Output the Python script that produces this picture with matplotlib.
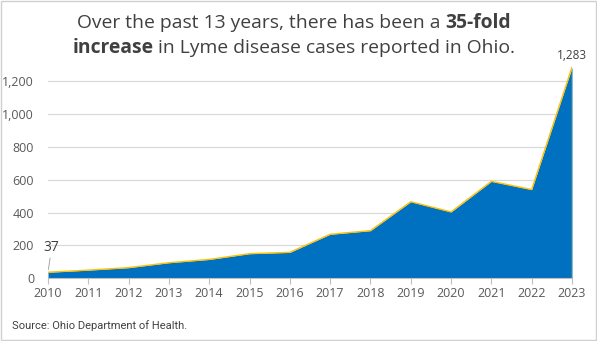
import matplotlib.pyplot as plt
from matplotlib.patches import Rectangle

years = [2010, 2011, 2012, 2013, 2014, 2015, 2016, 2017, 2018, 2019, 2020, 2021, 2022, 2023]
cases = [37, 50, 65, 95, 115, 150, 158, 268, 290, 466, 404, 590, 540, 1283]
yticks = [0, 200, 400, 600, 800, 1000, 1200]

blue = '#0070C0'
gold = '#FFC000'
grey_txt = '#595959'

plt.rcParams['font.family'] = ['Open Sans', 'DejaVu Sans']

fig = plt.figure(figsize=(5.97, 3.41), dpi=100)
ax = fig.add_axes([0.0804, 0.1838, 0.8777, 0.622])

ax.fill_between(years, cases, 0, color=blue, lw=0, zorder=2)
ax.plot(years, cases, color=gold, lw=1.0, zorder=3)
ax.plot([years[-1], years[-1]], [0, cases[-1]], color=gold, lw=1.0, zorder=3)

ax.set_xlim(years[0], years[-1])
ax.set_ylim(0, 1290)
ax.set_xticks(years)
ax.set_yticks(yticks)
ax.set_yticklabels([f'{v:,}' for v in yticks])
ax.grid(axis='y', color='#d9d9d9', lw=0.9, zorder=0)
for s in ['top', 'right', 'left']:
    ax.spines[s].set_visible(False)
ax.spines['bottom'].set_color('#bfbfbf')
ax.tick_params(axis='y', length=0, pad=10, labelsize=9, labelcolor=grey_txt)
ax.tick_params(axis='x', length=4, color='#bfbfbf', pad=2, labelsize=9, labelcolor=grey_txt)

# value labels for first and last year
ax.annotate(f'{cases[0]:,}', xy=(years[0], cases[0]), xytext=(years[0] + 0.09, 140),
            ha='center', va='bottom', fontsize=10, color='#404040',
            arrowprops=dict(arrowstyle='-', color='#a6a6a6', lw=0.7, shrinkA=0, shrinkB=2))
ax.annotate(f'{cases[-1]:,}', xy=(years[-1], cases[-1]), xytext=(0, 4), textcoords='offset points',
            ha='center', va='bottom', fontsize=8.5, color='#404040', annotation_clip=False)

# title with bold segments
title_color = '#404040'
lines = [
    [('Over the past 13 years, there has been a ', 'normal'), ('35-fold', 'bold')],
    [('increase', 'bold'), (' in Lyme disease cases reported in Ohio.', 'normal')],
]
line_y = [0.932, 0.858]
cx = 0.492
renderer = fig.canvas.get_renderer()
for parts, y in zip(lines, line_y):
    texts = []
    for s, w in parts:
        texts.append(fig.text(0, y, s, fontsize=13.9, fontweight=w, color=title_color,
                              va='center', ha='left'))
    widths = [t.get_window_extent(renderer).width / fig.bbox.width for t in texts]
    x = cx - sum(widths) / 2
    for t, wd in zip(texts, widths):
        t.set_x(x)
        x += wd

fig.text(0.02, 0.045, 'Source: Ohio Department of Health.', fontsize=8, color='#404040',
         family=['Liberation Sans Narrow', 'Roboto', 'DejaVu Sans'], va='center')

fig.patches.append(Rectangle((0.001, 0.002), 0.997, 0.995, transform=fig.transFigure,
                             fill=False, edgecolor='#d0d0d0', lw=1))

fig.savefig('out.png', dpi=100)
